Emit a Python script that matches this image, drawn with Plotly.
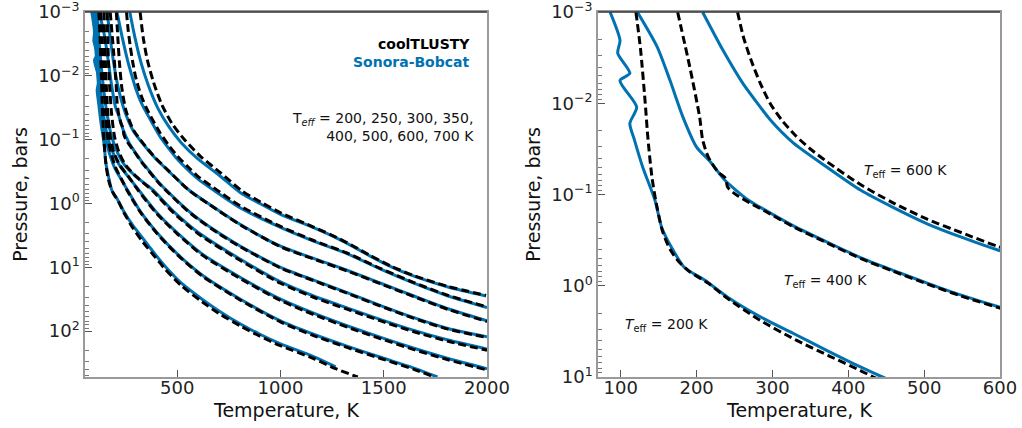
import plotly.graph_objects as go
import numpy as np

# ---------------- data ----------------
# Sonora-Bobcat (blue solid) and coolTLUSTY (black dashed) P-T profiles
# temperatures in K, pressures as log10(P / bar)
s200_T = [86, 99, 96, 112, 99, 121, 112, 118, 129, 145, 154, 167, 184, 211, 241, 284, 327, 372, 416, 445, 520, 620, 700, 806, 900, 1000, 1160, 1267]
s200_logP = [-3.0, -2.69, -2.55, -2.33, -2.25, -1.96, -1.78, -1.60, -1.30, -0.94, -0.64, -0.42, -0.20, -0.06, 0.125, 0.34, 0.52, 0.71, 0.89, 1.0, 1.25, 1.50, 1.68, 1.89, 2.05, 2.2, 2.4, 2.56]
c200_T = [120, 126, 132, 136, 141, 146, 155, 165, 176, 190, 215, 241, 284, 330, 375, 416, 433, 520, 620, 700, 806, 900, 1000, 1160, 1267, 1374]
c200_logP = [-3.0, -2.6, -2.03, -1.6, -1.2, -0.94, -0.6, -0.4, -0.27, -0.16, -0.03, 0.14, 0.38, 0.59, 0.77, 0.93, 1.0, 1.29, 1.54, 1.72, 1.92, 2.08, 2.23, 2.43, 2.59, 2.72]

s250_T = [95, 102, 110, 120, 133, 150, 170, 198, 228, 257, 320, 400, 500, 620, 806, 1000, 1160, 1325, 1485, 1646, 1760]
s250_logP = [-3.0, -2.6, -2.2, -1.8, -1.4, -1.05, -0.8, -0.55, -0.38, -0.22, 0.12, 0.45, 0.79, 1.12, 1.5, 1.84, 2.05, 2.24, 2.41, 2.58, 2.72]
c250_T = [130, 135, 140, 146, 153, 162, 178, 203, 230, 258, 322, 402, 502, 622, 808, 1002, 1160, 1325, 1485, 1646, 1745]
c250_logP = [-3.0, -2.6, -2.2, -1.8, -1.4, -1.05, -0.8, -0.55, -0.38, -0.2, 0.14, 0.47, 0.81, 1.14, 1.52, 1.86, 2.07, 2.26, 2.43, 2.60, 2.72]

s300_T = [103, 110, 118, 128, 142, 162, 188, 220, 262, 311, 400, 500, 620, 806, 1000, 1160, 1325, 1485, 1646, 1811, 2000]
s300_logP = [-3.0, -2.6, -2.2, -1.8, -1.4, -1.05, -0.8, -0.6, -0.42, -0.22, 0.14, 0.46, 0.79, 1.16, 1.5, 1.72, 1.92, 2.10, 2.27, 2.43, 2.59]
c300_T = [145, 148, 152, 157, 164, 175, 193, 222, 264, 312, 401, 501, 621, 807, 1000, 1160, 1325, 1485, 1646, 1811, 2000]
c300_logP = [-3.0, -2.6, -2.2, -1.8, -1.4, -1.05, -0.8, -0.6, -0.42, -0.2, 0.16, 0.48, 0.81, 1.18, 1.52, 1.74, 1.94, 2.12, 2.29, 2.45, 2.61]

s350_T = [112, 120, 130, 143, 160, 182, 210, 245, 300, 379, 480, 600, 806, 1000, 1160, 1325, 1485, 1646, 1811, 2000]
s350_logP = [-3.0, -2.6, -2.2, -1.8, -1.4, -1.05, -0.8, -0.6, -0.42, -0.22, 0.12, 0.45, 0.875, 1.23, 1.45, 1.64, 1.82, 1.99, 2.14, 2.28]
c350_T = [160, 163, 167, 173, 182, 196, 218, 250, 302, 380, 480, 600, 806, 1000, 1160, 1325, 1485, 1646, 1811, 2000]
c350_logP = [-3.0, -2.6, -2.2, -1.8, -1.4, -1.05, -0.8, -0.6, -0.42, -0.2, 0.14, 0.47, 0.895, 1.25, 1.47, 1.66, 1.84, 2.01, 2.16, 2.30]

s400_T = [122, 148, 165, 182, 200, 218, 237, 268, 284, 327, 372, 416, 459, 504, 548, 598, 700, 806, 1000, 1160, 1325, 1485, 1646, 1811, 2000]
s400_logP = [-3.0, -2.62, -2.25, -1.85, -1.52, -1.36, -1.16, -0.94, -0.86, -0.66, -0.48, -0.31, -0.17, -0.03, 0.10, 0.23, 0.46, 0.67, 1.0, 1.2, 1.40, 1.60, 1.79, 1.96, 2.09]
c400_T = [175, 191, 204, 208, 215, 228, 238, 241, 252, 270, 290, 327, 372, 416, 459, 504, 548, 598, 700, 806, 1000, 1160, 1325, 1485, 1646, 1811, 2000]
c400_logP = [-3.0, -2.4, -1.85, -1.6, -1.42, -1.25, -1.18, -1.08, -1.0, -0.91, -0.82, -0.65, -0.47, -0.30, -0.16, -0.02, 0.11, 0.24, 0.47, 0.68, 1.01, 1.21, 1.41, 1.61, 1.80, 1.97, 2.10]

s500_T = [160, 175, 192, 215, 245, 285, 330, 390, 460, 553, 650, 806, 1000, 1160, 1325, 1485, 1646, 1811, 2000]
s500_logP = [-3.0, -2.6, -2.2, -1.8, -1.45, -1.15, -0.95, -0.72, -0.5, -0.22, 0.0, 0.33, 0.67, 0.86, 1.05, 1.25, 1.45, 1.65, 1.84]
c500_T = [205, 212, 220, 232, 252, 288, 333, 393, 462, 555, 652, 808, 1002, 1160, 1325, 1485, 1646, 1811, 2000]
c500_logP = [-3.0, -2.6, -2.2, -1.8, -1.45, -1.15, -0.95, -0.72, -0.5, -0.21, 0.01, 0.34, 0.68, 0.87, 1.06, 1.26, 1.46, 1.66, 1.85]

s600_T = [208, 235, 261, 284, 297, 327, 372, 416, 459, 504, 550, 598, 675, 806, 1000, 1160, 1325, 1485, 1646, 1811, 2000]
s600_logP = [-3.0, -2.58, -2.22, -1.96, -1.82, -1.57, -1.30, -1.05, -0.86, -0.68, -0.53, -0.39, -0.21, 0.07, 0.375, 0.59, 0.79, 1.03, 1.25, 1.45, 1.63]
c600_T = [254, 262, 272, 284, 297, 312, 330, 350, 372, 416, 459, 504, 550, 598, 675, 806, 1000, 1160, 1325, 1485, 1646, 1811, 2000]
c600_logP = [-3.0, -2.72, -2.47, -2.22, -2.0, -1.82, -1.65, -1.5, -1.36, -1.11, -0.91, -0.73, -0.58, -0.43, -0.25, 0.04, 0.36, 0.58, 0.78, 1.02, 1.24, 1.44, 1.62]

s700_T = [270, 295, 325, 360, 405, 460, 520, 600, 700, 806, 900, 1000, 1160, 1277, 1354, 1437, 1534, 1646, 1811, 1995]
s700_logP = [-3.0, -2.6, -2.2, -1.85, -1.5, -1.2, -0.95, -0.7, -0.45, -0.17, 0.0, 0.17, 0.38, 0.55, 0.68, 0.83, 0.99, 1.14, 1.31, 1.45]
c700_T = [320, 335, 355, 385, 425, 475, 535, 612, 710, 812, 905, 1003, 1160, 1277, 1354, 1437, 1534, 1646, 1811, 1995]
c700_logP = [-3.0, -2.6, -2.25, -1.9, -1.55, -1.25, -1.0, -0.74, -0.48, -0.2, -0.02, 0.15, 0.37, 0.54, 0.67, 0.82, 0.98, 1.13, 1.30, 1.44]

teff_left = [200, 250, 300, 350, 400, 500, 600, 700]
teff_right = [200, 400, 600]

sonora = {200: (s200_T, s200_logP), 250: (s250_T, s250_logP), 300: (s300_T, s300_logP),
          350: (s350_T, s350_logP), 400: (s400_T, s400_logP), 500: (s500_T, s500_logP),
          600: (s600_T, s600_logP), 700: (s700_T, s700_logP)}
cool = {200: (c200_T, c200_logP), 250: (c250_T, c250_logP), 300: (c300_T, c300_logP),
        350: (c350_T, c350_logP), 400: (c400_T, c400_logP), 500: (c500_T, c500_logP),
        600: (c600_T, c600_logP), 700: (c700_T, c700_logP)}

# ---------------- styling ----------------
BLUE = "#0072B2"
FONT = "DejaVu Sans"
AXCOL = "#9a9a9a"

fig = go.Figure()

def add_set(teffs, xa, ya):
    for t in teffs:
        T, lp = sonora[t]
        fig.add_trace(go.Scatter(x=T, y=np.power(10.0, lp), mode="lines",
                                 line=dict(color=BLUE, width=3, shape="spline", smoothing=0.7),
                                 xaxis=xa, yaxis=ya, showlegend=False, hoverinfo="skip"))
    for t in teffs:
        T, lp = cool[t]
        fig.add_trace(go.Scatter(x=T, y=np.power(10.0, lp), mode="lines",
                                 line=dict(color="black", width=3, dash="8px,4px", shape="spline", smoothing=0.7),
                                 xaxis=xa, yaxis=ya, showlegend=False, hoverinfo="skip"))

add_set(teff_left, "x", "y")
add_set(teff_right, "x2", "y2")

sup = {"-3": "−3", "-2": "−2", "-1": "−1", "0": "0", "1": "1", "2": "2"}
def ytick(exps):
    vals = [10.0 ** e for e in exps]
    txt = ["10<sup>%s</sup>" % sup[str(e)] for e in exps]
    return vals, txt

def minors(lo, hi):
    out = []
    for e in range(lo, hi):
        for m in range(2, 10):
            out.append(m * 10.0 ** e)
    return out

yl_vals, yl_txt = ytick([-3, -2, -1, 0, 1, 2])
yr_vals, yr_txt = ytick([-3, -2, -1, 0, 1])

common_ax = dict(showgrid=False, zeroline=False, showline=True, linecolor=AXCOL, linewidth=1.5,
                 mirror=True, ticks="inside", ticklen=7, tickcolor="#555555", tickwidth=1,
                 automargin=False, ticklabeloverflow="allow",
                 tickfont=dict(family=FONT, size=18, color="#222222"))

title_font = dict(family=FONT, size=19, color="#111111")

fig.update_layout(
    width=1022, height=428,
    margin=dict(l=0, r=0, t=0, b=0, autoexpand=False),
    paper_bgcolor="white", plot_bgcolor="white",
    font=dict(family=FONT),
    xaxis=dict(domain=[85 / 1022, 487 / 1022], range=[53, 2000], tickvals=[500, 1000, 1500, 2000],
               ticklabelstandoff=-6, anchor="y", **common_ax),
    yaxis=dict(domain=[1 - 377 / 428, 1 - 12 / 428], type="log", range=[2.72, -3.002],
               tickvals=yl_vals, ticktext=yl_txt,
               minor=dict(tickvals=minors(-3, 3), ticks="inside", ticklen=4, tickcolor="#777777"),
               title=dict(text="Pressure, bars", font=title_font, standoff=6),
               anchor="x", **common_ax),
    xaxis2=dict(domain=[598 / 1022, 1000 / 1022], range=[70, 600], tickvals=[100, 200, 300, 400, 500, 600],
                ticklabelstandoff=-6, anchor="y2", **common_ax),
    yaxis2=dict(domain=[1 - 377 / 428, 1 - 12 / 428], type="log", range=[1.0, -3.002],
                tickvals=yr_vals, ticktext=yr_txt,
                minor=dict(tickvals=minors(-3, 1), ticks="inside", ticklen=4, tickcolor="#777777"),
                title=dict(text="Pressure, bars", font=title_font, standoff=6),
                anchor="x2", **common_ax),
)

# x-axis titles
for xc in [(85 + 487) / 2, (598 + 1000) / 2]:
    fig.add_annotation(xref="paper", yref="paper", x=xc / 1022, y=1 - 410 / 428,
                       text="Temperature, K", showarrow=False, xanchor="center", yanchor="middle",
                       font=title_font)

# darker top spines, as in the reference
for x0, x1 in [(85, 487), (598, 1000)]:
    fig.add_shape(type="line", xref="paper", yref="paper", x0=x0 / 1022, x1=x1 / 1022,
                  y0=1 - 12 / 428, y1=1 - 12 / 428, line=dict(color="#333333", width=1.5))

ann_font = dict(family=FONT, size=14, color="#111111")
fig.add_annotation(xref="paper", yref="paper", x=472 / 1022, y=1 - 44 / 428, text="<b>coolTLUSTY</b>",
                   showarrow=False, xanchor="right", yanchor="middle",
                   font=dict(family=FONT, size=14, color="black"))
fig.add_annotation(xref="paper", yref="paper", x=472 / 1022, y=1 - 62 / 428, text="<b>Sonora-Bobcat</b>",
                   showarrow=False, xanchor="right", yanchor="middle",
                   font=dict(family=FONT, size=14, color=BLUE))
fig.add_annotation(xref="paper", yref="paper", x=476 / 1022, y=1 - 127 / 428,
                   text="T<sub><i>eff</i></sub> = 200, 250, 300, 350,<br>400, 500, 600, 700 K",
                   showarrow=False, xanchor="right", yanchor="middle", align="right", font=ann_font)

for txt, xc, yc in [("600", 905, 171), ("400", 825, 281), ("200", 666, 325)]:
    fig.add_annotation(xref="paper", yref="paper", x=xc / 1022, y=1 - yc / 428,
                       text="<i>T</i><sub>eff</sub> = %s K" % txt,
                       showarrow=False, xanchor="center", yanchor="middle", font=ann_font)

fig.write_html("out.html")
